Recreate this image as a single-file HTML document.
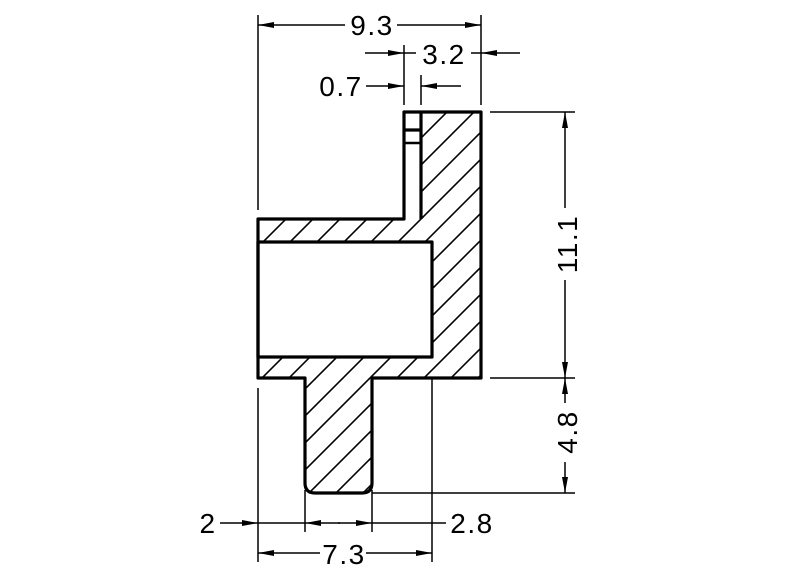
<!DOCTYPE html>
<html><head><style>
html,body{margin:0;padding:0;background:#fff;}
svg{display:block;}
text{font-family:"Liberation Sans",sans-serif;font-size:28px;letter-spacing:1.5px;fill:#000;}
</style></head><body>
<svg width="800" height="576" viewBox="0 0 800 576" xmlns="http://www.w3.org/2000/svg">
<defs>
<pattern id="h" patternUnits="userSpaceOnUse" x="19" y="0" width="27" height="27">
<line x1="-2" y1="29" x2="29" y2="-2" stroke="#000" stroke-width="1.6"/>
<line x1="-2" y1="2" x2="2" y2="-2" stroke="#000" stroke-width="1.6"/>
<line x1="25" y1="29" x2="29" y2="25" stroke="#000" stroke-width="1.6"/>
</pattern>
<marker id="a" viewBox="0 0 16 6" refX="16" refY="3" markerWidth="16" markerHeight="6" markerUnits="userSpaceOnUse" orient="auto">
<path d="M0,0 L16,3 L0,6 Z" fill="#000"/>
</marker>
</defs>
<path fill="url(#h)" fill-rule="evenodd" d="M421,112 L481,112 L481,378 L372,378 L372,483 Q372,493 362,493 L315,493 Q305,493 305,483 L305,378 L258,378 L258,219 L421,219 Z M258,242 L432,242 L432,357 L258,357 Z"/>
<g fill="none" stroke="#000" stroke-width="3.2" stroke-linejoin="round">
<path d="M404,112 L481,112 L481,378 L372,378 L372,483 Q372,493 362,493 L315,493 Q305,493 305,483 L305,378 L258,378 L258,219 L404,219 Z"/>
<path d="M421,112 L421,219"/>
<rect x="258" y="242" width="174" height="115"/>
<line x1="404" y1="130" x2="421" y2="130"/>
<line x1="404" y1="143" x2="421" y2="143" stroke-width="2.5"/>
</g>
<g stroke="#000" stroke-width="1.5" fill="none">
<line x1="258" y1="15" x2="258" y2="210"/>
<line x1="481" y1="15" x2="481" y2="105"/>
<line x1="404" y1="45" x2="404" y2="105"/>
<line x1="421" y1="75" x2="421" y2="105"/>
<line x1="490" y1="112" x2="575" y2="112"/>
<line x1="490" y1="378" x2="575" y2="378"/>
<line x1="372" y1="493" x2="575" y2="493"/>
<line x1="258" y1="388" x2="258" y2="562"/>
<line x1="305" y1="490" x2="305" y2="532"/>
<line x1="372" y1="490" x2="372" y2="532"/>
<line x1="432" y1="378" x2="432" y2="562"/>
<line x1="345" y1="25" x2="258" y2="25" marker-end="url(#a)"/>
<line x1="397" y1="25" x2="481" y2="25" marker-end="url(#a)"/>
<line x1="365" y1="53" x2="404" y2="53" marker-end="url(#a)"/>
<line x1="520" y1="53" x2="481" y2="53" marker-end="url(#a)"/>
<line x1="404" y1="53" x2="416" y2="53"/>
<line x1="471" y1="53" x2="481" y2="53"/>
<line x1="366" y1="86" x2="404" y2="86" marker-end="url(#a)"/>
<line x1="461" y1="86" x2="421" y2="86" marker-end="url(#a)"/>
<line x1="565" y1="208" x2="565" y2="112" marker-end="url(#a)"/>
<line x1="565" y1="280" x2="565" y2="378" marker-end="url(#a)"/>
<line x1="565" y1="403" x2="565" y2="378" marker-end="url(#a)"/>
<line x1="565" y1="462" x2="565" y2="493" marker-end="url(#a)"/>
<line x1="220" y1="523" x2="258" y2="523" marker-end="url(#a)"/>
<line x1="258" y1="523" x2="305" y2="523"/>
<line x1="340" y1="523" x2="305" y2="523" marker-end="url(#a)"/>
<line x1="338" y1="523" x2="372" y2="523" marker-end="url(#a)"/>
<line x1="372" y1="523" x2="446" y2="523"/>
<line x1="320" y1="553" x2="258" y2="553" marker-end="url(#a)"/>
<line x1="366" y1="553" x2="432" y2="553" marker-end="url(#a)"/>
</g>
<text x="372" y="35" text-anchor="middle">9.3</text>
<text x="444" y="64" text-anchor="middle">3.2</text>
<text x="341" y="96" text-anchor="middle">0.7</text>
<text x="208" y="533" text-anchor="middle">2</text>
<text x="472" y="533" text-anchor="middle">2.8</text>
<text x="344" y="564" text-anchor="middle">7.3</text>
<text transform="translate(577,244) rotate(-90)" text-anchor="middle">11.1</text>
<text transform="translate(577,432) rotate(-90)" text-anchor="middle">4.8</text>
</svg>
</body></html>
